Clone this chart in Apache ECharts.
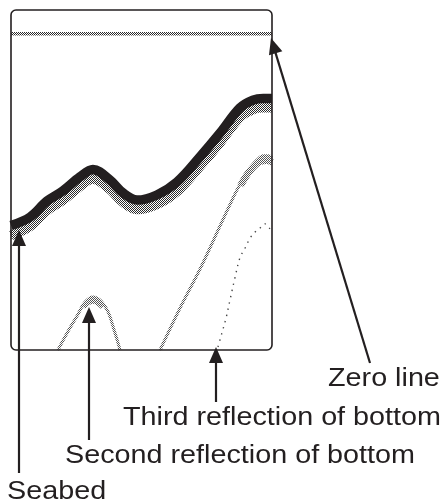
<!DOCTYPE html>
<html>
<head>
<meta charset="utf-8">
<script src="https://cdn.jsdelivr.net/npm/echarts@6/dist/echarts.min.js"></script>
<style>
html,body{margin:0;padding:0;background:#fff;}
#chart{width:446px;height:504px;}
</style>
</head>
<body>
<div id="chart"></div>
<script>
// x: time across the echogram (0..100), y: depth units (0 = zero line, downwards)
var seabedX      = [0, 7.3, 13.8, 19.9, 26.4, 31.4, 37.9, 42.9, 48.3, 55.9, 63.6, 72.4, 80.1, 87.7, 92.7, 96.6, 100];
var seabedDepth  = [56.4, 53.9, 49.2, 46.2, 42.1, 39.9, 43.0, 46.8, 48.9, 47.4, 43.6, 36.2, 29.2, 21.8, 19.5, 19.0, 19.0];
var seabedTail   = [59.3, 56.6, 51.9, 48.9, 44.8, 42.6, 45.7, 49.5, 51.6, 50.1, 46.3, 38.9, 31.9, 24.5, 22.2, 21.7, 21.7];

var humpX        = [18.0, 21.5, 25.3, 28.4, 31.4, 34.5, 37.2, 39.5, 41.8];
var humpDepth    = [93.0, 88.0, 83.0, 78.9, 77.4, 78.6, 81.8, 87.1, 93.0];
var humpCapX     = [27.6, 29.5, 31.4, 33.3, 35.2];
var humpCapDepth = [80.3, 79.0, 78.5, 79.0, 80.3];

var rightX       = [57.1, 64.8, 72.4, 80.1, 84.7, 86.6, 88.9, 91.6, 94.3, 96.6, 98.5, 100];
var rightDepth   = [93.0, 80.6, 69.2, 56.5, 48.9, 45.9, 42.7, 39.5, 37.1, 35.9, 35.9, 36.5];
var rightCapX    = [88.0, 90.5, 93.0, 95.5, 98.0, 100];
var rightCapDepth= [44.6, 41.4, 39.0, 37.6, 37.3, 37.8];

var thirdX       = [79.3, 80.8, 82.4, 83.9, 85.8, 87.7, 89.7, 91.6, 93.5, 95.4, 97.3, 99.2];
var thirdDepth   = [92.1, 88.0, 83.6, 78.3, 71.8, 65.9, 63.0, 60.1, 58.3, 57.1, 55.9, 57.4];

var zeroX        = [0, 100];
var zeroDepth    = [0, 0];

var labels = ['Zero line', 'Third reflection of bottom', 'Second reflection of bottom', 'Seabed'];

function pairs(xs, ys) { return xs.map(function (x, i) { return [x, ys[i]]; }); }

var INK = '#231f20';

// checkerboard dither like the printed echogram shading
function dither(dark) {
  var c = document.createElement('canvas');
  c.width = 2; c.height = 2;
  var g = c.getContext('2d');
  g.fillStyle = '#ffffff'; g.fillRect(0, 0, 2, 2);
  g.fillStyle = dark;
  g.fillRect(0, 0, 1, 1); g.fillRect(1, 1, 1, 1);
  return { image: c, repeat: 'repeat' };
}
var SHADE = dither('#2a2a2a');
var LIGHT = dither('#555555');

function lineSeries(xs, ys, color, width, extra) {
  var s = {
    type: 'line', data: pairs(xs, ys), showSymbol: false, smooth: 0.35,
    lineStyle: { color: color, width: width, cap: 'butt', join: 'round' },
    silent: true, animation: false, clip: true
  };
  if (extra) { for (var k in extra) s.lineStyle[k] = extra[k]; }
  return s;
}

function arrow(tx, ty, hx, hy) {
  var dx = hx - tx, dy = hy - ty, L = Math.sqrt(dx * dx + dy * dy);
  var ux = dx / L, uy = dy / L, hl = 16, hw = 7;
  var bx = hx - ux * hl, by = hy - uy * hl;
  return [
    { type: 'line', shape: { x1: tx, y1: ty, x2: bx + ux * 2, y2: by + uy * 2 },
      style: { stroke: INK, lineWidth: 2.2 }, silent: true },
    { type: 'polygon', shape: { points: [[hx, hy], [bx - uy * hw, by + ux * hw], [bx + uy * hw, by - ux * hw]] },
      style: { fill: INK }, silent: true }
  ];
}

function label(text, x, baseline) {
  return { type: 'text', x: x, y: baseline - 7.75, scaleX: 1.15,
    style: { text: text, x: 0, y: 0, fill: INK, font: '25px "Liberation Sans", Arial, sans-serif',
      align: 'left', verticalAlign: 'middle' }, silent: true };
}

var chart = echarts.init(document.getElementById('chart'), null, { renderer: 'canvas' });

var graphics = [
  { type: 'rect', shape: { x: 11, y: 10, width: 261, height: 340, r: 5 },
    style: { fill: 'none', stroke: INK, lineWidth: 1.6 }, silent: true, z: 10 }
];
graphics = graphics
  .concat(arrow(19, 473, 19, 230))
  .concat(arrow(89, 440, 89, 307))
  .concat(arrow(216, 402, 216, 347))
  .concat(arrow(370, 363, 271, 38))
  .concat([
    label(labels[0], 328, 387),
    label(labels[1], 123, 426),
    label(labels[2], 65, 464),
    label(labels[3], 7, 500)
  ]);
graphics.forEach(function (g) { if (g.z == null) g.z = 20; });

chart.setOption({
  backgroundColor: '#fff',
  animation: false,
  grid: { left: 11, top: 10, width: 261, height: 340, show: false },
  xAxis: { type: 'value', min: 0, max: 100, show: false },
  yAxis: { type: 'value', min: -7, max: 93, inverse: true, show: false },
  series: [
    lineSeries(zeroX, zeroDepth, SHADE, 3.5),
    lineSeries(seabedX, seabedTail, SHADE, 10),
    lineSeries(seabedX, seabedDepth, INK, 9.5),
    lineSeries(humpX, humpDepth, LIGHT, 3),
    lineSeries(humpCapX, humpCapDepth, LIGHT, 6),
    lineSeries(rightX, rightDepth, LIGHT, 3),
    lineSeries(rightCapX, rightCapDepth, LIGHT, 7),
    lineSeries(thirdX, thirdDepth, '#444', 1.4, { type: [1.4, 5] })
  ],
  graphic: graphics
});
</script>
</body>
</html>
